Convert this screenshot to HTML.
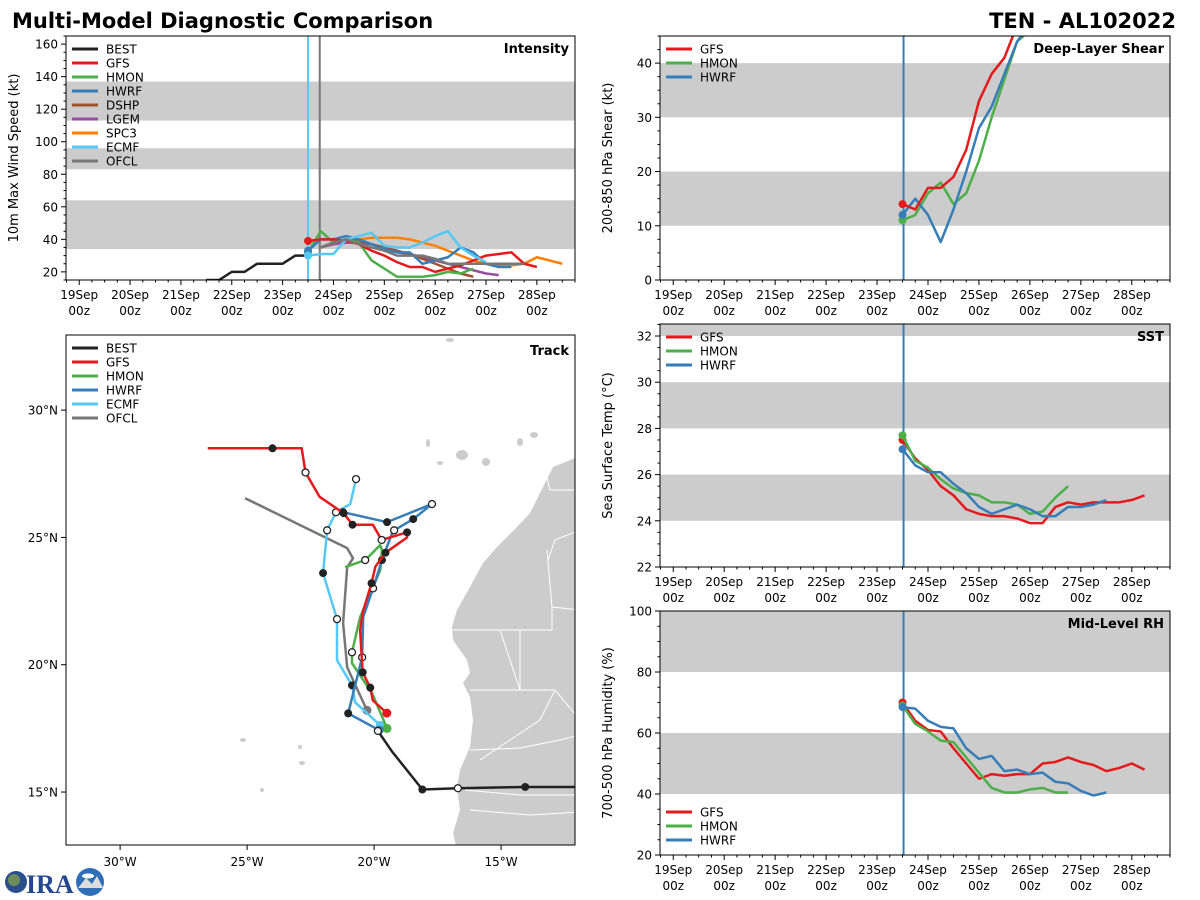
<!DOCTYPE html>
<html><head><meta charset="utf-8"><style>
html,body{margin:0;padding:0;background:#fff;}
svg{display:block;font-family:"DejaVu Sans","Liberation Sans",sans-serif;}
</style></head><body>
<svg id="chart" width="1200" height="900" viewBox="0 0 1200 900" xmlns="http://www.w3.org/2000/svg">
<text x="12" y="28" font-size="21" font-weight="bold" fill="#000">Multi-Model Diagnostic Comparison</text>
<text x="1176" y="28" font-size="21" font-weight="bold" fill="#000" text-anchor="end">TEN - AL102022</text>
<g>
<circle cx="16" cy="882" r="11" fill="#2a4f8f"/><circle cx="14" cy="880" r="6" fill="#6d8c5a"/>
<text x="26" y="893" font-size="26" font-weight="bold" fill="#24478f" font-family="Liberation Serif, serif">IRA</text>
<circle cx="90" cy="882" r="14" fill="#2e6fb8"/><path d="M78 888 L86 878 L92 884 L97 876 L103 888 Z" fill="#ddd"/><ellipse cx="88" cy="876" rx="6" ry="2.5" fill="#fff"/>
</g>
</svg>
<script>
// ---------------- data ----------------
const dayLabels=['19Sep','20Sep','21Sep','22Sep','23Sep','24Sep','25Sep','26Sep','27Sep','28Sep'];
const bestStart=2.5;
const bestInt=[15,15,20,20,25,25,25,30,30];
const gfsInt=[39,40,40,39,37,33,30,26,23,23,20,22,24,27,30,31,32,25,23];
const hmonInt=[32,45,38,40,38,27,22,17,17,17,18,20,19,22];
const hwrfInt=[33,40,40,42,40,37,34,32,32,25,27,29,35,32,25,23,23];
const dshpInt=[null,35,38,40,39,37,35,33,31,28,25,22,19,17];
const lgemInt=[null,35,37,38,38,37,34,32,31,29,27,25,23,21,19,18];
const spc3Int=[null,35,37,39,40,41,41,41,40,38,36,33,30,27,25,24,24,25,29,27,25];
const ecmfInt=[30,31,31,40,42,44,36,35,35,38,42,45,35,30,26];
const ofclInt=[null,35,38,40,37,35,33,30,30,30,28,25,25,25,25,25,25,25];
const gfsShear=[14,13,17,17,19,24,33,38,41,47];
const hmonShear=[11,12,16,18,14,16,22,30,37,44,46];
const hwrfShear=[12,15,12,7,13,20,28,32,38,44,47];
const gfsSst=[27.5,26.7,26.2,25.5,25.1,24.5,24.3,24.2,24.2,24.1,23.9,23.9,24.6,24.8,24.7,24.8,24.8,24.8,24.9,25.1];
const hmonSst=[27.7,26.6,26.3,25.8,25.4,25.2,25.1,24.8,24.8,24.7,24.3,24.4,25.0,25.5];
const hwrfSst=[27.1,26.4,26.1,26.1,25.6,25.2,24.6,24.3,24.5,24.7,24.5,24.2,24.2,24.6,24.6,24.7,24.9];
const gfsRh=[70,64,61,60.5,55,50,45,46.5,46,46.5,46.5,50,50.5,52,50.5,49.5,47.5,48.5,50,48];
const hmonRh=[69,63,60.5,57.5,57,52,47,42,40.5,40.5,41.5,42,40.5,40.5];
const hwrfRh=[68.5,68,64,62,61.5,55,51.5,52.5,47.5,48,46.5,47,44,43.5,41,39.5,40.5];
const bestTrack=[[-12.1,15.2],[-14.05,15.2],[-16.7,15.15],[-18.1,15.1],[-19.3,16.6],[-19.85,17.4]];
const bestMk=[0,1,2,1,0,2];
const gfsTrack=[[-19.5,18.1],[-20.05,18.6],[-20.15,19.1],[-20.45,19.7],[-20.55,21.35],[-20.45,22.05],[-20.1,23.2],[-19.95,23.85],[-19.55,24.4],[-18.7,25.0],[-18.7,25.2],[-19.7,24.9],[-20.05,25.5],[-20.85,25.5],[-21.2,25.95],[-22.15,26.6],[-22.7,27.55],[-22.85,28.5],[-24.0,28.5],[-26.55,28.5]];
const gfsMk=[0,0,1,1,0,0,1,0,1,0,1,2,0,1,1,0,2,0,1,0];
const hwrfTrack=[[-19.8,17.43],[-21.02,18.09],[-20.47,20.29],[-20.43,21.87],[-20.04,23.0],[-19.69,24.11],[-19.29,25.17],[-19.21,25.28],[-18.46,25.72],[-17.72,26.31],[-19.49,25.6],[-21.22,25.99]];
const hwrfMk=[0,1,2,0,2,1,0,2,1,2,1,1];
const hmonTrack=[[-19.49,17.5],[-20.08,18.88],[-20.87,20.06],[-20.87,20.49],[-20.55,21.87],[-19.76,23.71],[-19.69,24.5],[-19.76,24.7],[-20.35,24.11],[-21.14,23.83]];
const hmonMk=[0,0,0,2,0,0,0,0,2,0];
const ecmfTrack=[[-19.76,17.62],[-20.75,18.53],[-20.87,19.19],[-21.46,20.18],[-21.46,21.79],[-22.01,23.6],[-21.85,25.28],[-21.5,25.99],[-20.94,26.31],[-20.71,27.29]];
const ecmfMk=[0,0,1,0,2,1,2,2,0,2];
const ofclTrack=[[-20.28,18.21],[-21.06,19.9],[-21.22,21.63],[-21.06,23.83],[-20.83,24.18],[-21.06,24.58],[-25.08,26.54]];
const ofclMk=[0,0,0,0,0,0,0];

// ---------------- helpers ----------------
const NS='http://www.w3.org/2000/svg';
const svg=document.getElementById('chart');
function mk(tag,parent){const e=document.createElementNS(NS,tag);(parent||svg).appendChild(e);return e;}
function at(e,o){for(const k in o)e.setAttribute(k,o[k]);return e;}
const C={BEST:'#222222',GFS:'#e41a1c',HMON:'#4daf4a',HWRF:'#377eb8',DSHP:'#a0522d',LGEM:'#984ea3',SPC3:'#ff7f00',ECMF:'#56c8f5',OFCL:'#777777'};
const DX0=-0.26,DX1=9.75;

function panel(cfg){
  const g=mk('g');
  
  
  const xs=d=>cfg.L+(d-DX0)/(DX1-DX0)*(cfg.R-cfg.L);
  const ys=v=>cfg.B-(v-cfg.ymin)/(cfg.ymax-cfg.ymin)*(cfg.B-cfg.T);
  const cp=mk('clipPath',g);cp.setAttribute('id','clip-'+cfg.name);
  at(mk('rect',cp),{x:cfg.L,y:cfg.T,width:cfg.R-cfg.L,height:cfg.B-cfg.T});
  cfg.bands.forEach(b=>{
    const r=mk('rect',g);
    at(r,{x:cfg.L,y:ys(Math.min(b[1],cfg.ymax)),width:cfg.R-cfg.L,height:ys(b[0])-ys(Math.min(b[1],cfg.ymax)),fill:'#cccccc'});
    
    
  });
  for(let v=Math.ceil(cfg.ymin/cfg.minor)*cfg.minor;v<=cfg.ymax+1e-9;v+=cfg.minor){
    const major=Math.abs(v/cfg.major-Math.round(v/cfg.major))<1e-6;
    const y=ys(v);
    at(mk('line',g),{x1:cfg.L-(major?5:2.5),x2:cfg.L,y1:y,y2:y,stroke:'#000','stroke-width':1});
    if(major){
      const t=mk('text',g);at(t,{x:cfg.L-8,y:y+4.5,'font-size':12,'text-anchor':'end'});t.textContent=v;
      
      
    }
  }
  for(let d=-0.25;d<=DX1;d+=0.25){
    if(d<DX0)continue;
    const major=Math.abs(d-Math.round(d))<1e-6;
    const x=xs(d);
    at(mk('line',g),{x1:x,x2:x,y1:cfg.B,y2:cfg.B+(major?5:2.5),stroke:'#000','stroke-width':1});
  }
  dayLabels.forEach((lab,i)=>{
    const x=xs(i);
    const t=mk('text',g);at(t,{x:x,y:cfg.B+19,'font-size':12,'text-anchor':'middle'});t.textContent=lab;
    
    
    const t2=mk('text',g);at(t2,{x:x,y:cfg.B+35,'font-size':12,'text-anchor':'middle'});t2.textContent='00z';
    
    
  });
  const yl=mk('text',g);
  at(yl,{x:0,y:0,'font-size':13,'text-anchor':'middle',transform:`translate(${cfg.L-48},${(cfg.T+cfg.B)/2}) rotate(-90)`});
  yl.textContent=cfg.ylabel;
  
  
  (cfg.vlines||[]).forEach(v=>{
    const l=mk('line',g);at(l,{x1:xs(v[0]),x2:xs(v[0]),y1:cfg.T,y2:cfg.B,stroke:v[1],'stroke-width':2});
    
    
  });
  const sg=mk('g',g);sg.setAttribute('clip-path','url(#clip-'+cfg.name+')');
  cfg.series.forEach(s=>{
    let pts=[];
    s.vals.forEach((v,i)=>{if(v!==null)pts.push([xs(s.start+i*0.25),ys(v)]);});
    const p=mk('polyline',sg);
    at(p,{points:pts.map(q=>q.join(',')).join(' '),fill:'none',stroke:C[s.id],'stroke-width':2.5,'stroke-linejoin':'round'});
    
    
    if(s.dot){
      const c=mk('circle',sg);at(c,{cx:pts[0][0],cy:pts[0][1],r:4,fill:C[s.id]});
      
      
    }
  });
  const fr=mk('rect',g);at(fr,{x:cfg.L,y:cfg.T,width:cfg.R-cfg.L,height:cfg.B-cfg.T,fill:'none',stroke:'#000','stroke-width':1});
  const ti=mk('text',g);at(ti,{x:cfg.R-6,y:cfg.T+17,'font-size':13,'font-weight':'bold','text-anchor':'end'});ti.textContent=cfg.title;
  
  
  legend(g,cfg.legend,cfg.L+6,cfg.legY||cfg.T+13);
}
function legend(g,ids,x,y){
  const lg=mk('g',g);
  
  
  ids.forEach((id,i)=>{
    const yy=y+i*14;
    const e=mk('g',lg);
    
    
    at(mk('line',e),{x1:x,x2:x+26,y1:yy,y2:yy,stroke:C[id],'stroke-width':3});
    const t=mk('text',e);at(t,{x:x+34,y:yy+4.5,'font-size':12});t.textContent=id;
  });
}

panel({name:'intensity',L:66,R:575,T:36,B:280,ymin:15,ymax:165,major:20,minor:5,ylabel:'10m Max Wind Speed (kt)',title:'Intensity',
  bands:[[34,64],[83,96],[113,137]],vlines:[[4.5,C.ECMF],[4.73,C.OFCL]],
  legend:['BEST','GFS','HMON','HWRF','DSHP','LGEM','SPC3','ECMF','OFCL'],
  series:[{id:'BEST',start:bestStart,vals:bestInt},{id:'SPC3',start:4.5,vals:spc3Int},{id:'LGEM',start:4.5,vals:lgemInt},{id:'DSHP',start:4.5,vals:dshpInt},
  {id:'HMON',start:4.5,vals:hmonInt,dot:1},{id:'HWRF',start:4.5,vals:hwrfInt,dot:1},{id:'GFS',start:4.5,vals:gfsInt,dot:1},{id:'ECMF',start:4.5,vals:ecmfInt,dot:1},{id:'OFCL',start:4.5,vals:ofclInt}]});
panel({name:'shear',L:660,R:1170,T:36,B:280,ymin:0,ymax:45,major:10,minor:2.5,ylabel:'200-850 hPa Shear (kt)',title:'Deep-Layer Shear',
  bands:[[10,20],[30,40]],vlines:[[4.52,C.HWRF]],legend:['GFS','HMON','HWRF'],
  series:[{id:'HMON',start:4.5,vals:hmonShear,dot:1},{id:'HWRF',start:4.5,vals:hwrfShear,dot:1},{id:'GFS',start:4.5,vals:gfsShear,dot:1}]});
panel({name:'sst',L:660,R:1170,T:324,B:567,ymin:22,ymax:32.52,major:2,minor:0.5,ylabel:'Sea Surface Temp (°C)',title:'SST',
  bands:[[24,26],[28,30],[32,33]],vlines:[[4.52,C.HWRF]],legend:['GFS','HMON','HWRF'],
  series:[{id:'GFS',start:4.5,vals:gfsSst,dot:1},{id:'HMON',start:4.5,vals:hmonSst,dot:1},{id:'HWRF',start:4.5,vals:hwrfSst,dot:1}]});
panel({name:'rh',L:660,R:1170,T:611,B:855,ymin:20,ymax:100,major:20,minor:5,ylabel:'700-500 hPa Humidity (%)',title:'Mid-Level RH',
  bands:[[40,60],[80,100]],vlines:[[4.52,C.HWRF]],legend:['GFS','HMON','HWRF'],legY:812,
  series:[{id:'GFS',start:4.5,vals:gfsRh,dot:1},{id:'HMON',start:4.5,vals:hmonRh,dot:1},{id:'HWRF',start:4.5,vals:hwrfRh,dot:1}]});

// ---------------- track map ----------------
(function(){
  const L=66,R=575,T=335,B=845;
  const lonMin=-32.13,lonMax=-12.09,latMin=12.92,latMax=32.95;
  const xs=lo=>L+(lo-lonMin)/(lonMax-lonMin)*(R-L);
  const ys=la=>B-(la-latMin)/(latMax-latMin)*(B-T);
  const g=mk('g');
  
  
  const cp=mk('clipPath',g);cp.setAttribute('id','mapclip');
  at(mk('rect',cp),{x:L,y:T,width:R-L,height:B-T});
  const land=mk('g',g);land.setAttribute('clip-path','url(#mapclip)');
  
  
  at(mk('path',land),{d:'M580 455 L575 458 L553 467 L543 487 L530 513 L517 527 L497 547 L483 563 L470 587 L457 610 L452 627 L453 640 L467 660 L470 673 L463 683 L470 697 L473 720 L470 747 L460 770 L457 787 L460 810 L453 833 L457 850 L580 850 Z',fill:'#cccccc'});
  at(mk('path',land),{d:'M452 630 L552 630 L552 607 M547 550 L552 607 L580 610 M500 630 L520 690 L520 690 L470 690 M520 630 L520 690 L555 690 L580 720 M555 690 L540 720 L480 760 M470 750 L520 748 L560 740 L580 735 M465 790 L520 795 L580 795 M470 810 L530 815 L580 812 M545 470 L550 490 L575 490 M580 530 L555 540 L548 560',fill:'none',stroke:'#fff','stroke-width':1});
  [[428,443,2,4],[440,463,3,2],[462,455,6,5],[486,462,4,4],[520,442,3,4],[534,435,4,3],[450,340,4,2],[243,740,3,2],[300,747,2,2],[302,763,3,2],[262,790,2,2]].forEach(e=>{
    at(mk('ellipse',land),{cx:e[0],cy:e[1],rx:e[2],ry:e[3],fill:'#cccccc'});
  });
  [-30,-25,-20,-15].forEach(lo=>{
    const x=xs(lo);at(mk('line',g),{x1:x,x2:x,y1:B,y2:B+5,stroke:'#000'});
    const t=mk('text',g);at(t,{x:x,y:B+21,'font-size':12,'text-anchor':'middle'});t.textContent=(-lo)+'°W';
    
    
  });
  [15,20,25,30].forEach(la=>{
    const y=ys(la);at(mk('line',g),{x1:L-5,x2:L,y1:y,y2:y,stroke:'#000'});
    const t=mk('text',g);at(t,{x:L-8,y:y+4.5,'font-size':12,'text-anchor':'end'});t.textContent=la+'°N';
    
    
  });
  const tracks=[['OFCL',ofclTrack,ofclMk],['ECMF',ecmfTrack,ecmfMk],['HMON',hmonTrack,hmonMk],['HWRF',hwrfTrack,hwrfMk],['GFS',gfsTrack,gfsMk],['BEST',bestTrack,bestMk]];
  tracks.forEach(tr=>{
    const [id,pts,mks]=tr;
    const tg=mk('g',g);tg.setAttribute('clip-path','url(#mapclip)');
    
    
    at(mk('polyline',tg),{points:pts.map(p=>xs(p[0])+','+ys(p[1])).join(' '),fill:'none',stroke:C[id],'stroke-width':2.5,'stroke-linejoin':'round'});
    pts.forEach((p,i)=>{
      if(mks[i]===1) at(mk('circle',tg),{cx:xs(p[0]),cy:ys(p[1]),r:4,fill:'#222'});
      if(mks[i]===2) at(mk('circle',tg),{cx:xs(p[0]),cy:ys(p[1]),r:3.5,fill:'#fff',stroke:'#222','stroke-width':1.3});
    });
    if(id!=='BEST') at(mk('circle',tg),{cx:xs(pts[0][0]),cy:ys(pts[0][1]),r:4.5,fill:C[id]});
  });
  at(mk('rect',g),{x:L,y:T,width:R-L,height:B-T,fill:'none',stroke:'#000','stroke-width':1});
  const ti=mk('text',g);at(ti,{x:R-6,y:T+20,'font-size':13,'font-weight':'bold','text-anchor':'end'});ti.textContent='Track';
  
  
  legend(g,['BEST','GFS','HMON','HWRF','ECMF','OFCL'],L+6,T+13);
})();
</script>
</body></html>
